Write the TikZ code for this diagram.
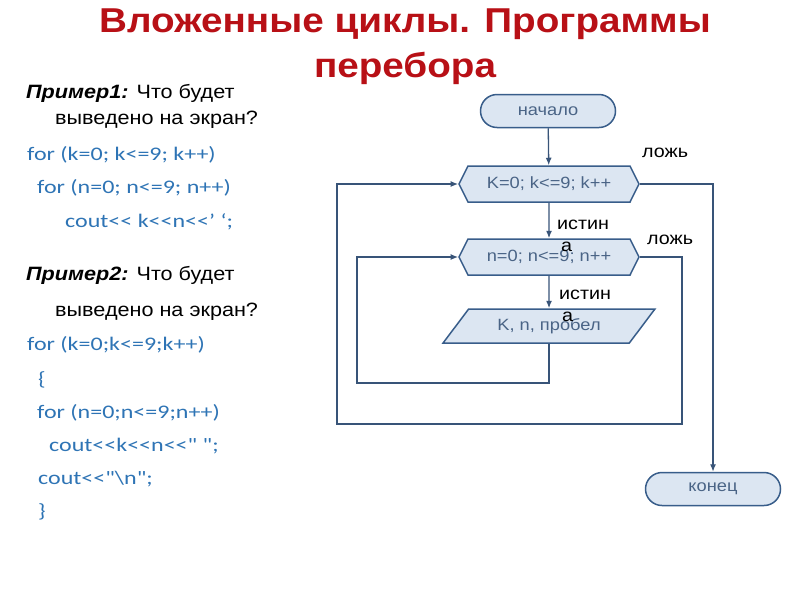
\documentclass[tikz,border=0pt]{standalone}
\usepackage{fontspec}
\setmainfont{Liberation Sans}[FakeStretch=1.12]
\newfontfamily\codefont{Carlito}[FakeStretch=1.25,Ligatures=TeXOff]
\usetikzlibrary{shapes.misc,shapes.symbols,shapes.geometric,arrows.meta}
\definecolor{titlered}{RGB}{184,16,22}
\definecolor{codeblue}{RGB}{46,116,181}
\definecolor{boxline}{RGB}{56,93,138}
\definecolor{boxfill}{RGB}{220,230,242}
\definecolor{boxtext}{RGB}{74,100,134}
\definecolor{connclr}{RGB}{56,84,120}
\tikzset{
  titletxt/.style={anchor=base, inner sep=0pt, text=titlered, font=\fontsize{34.5}{41}\selectfont\bfseries},
  bodytxt/.style={anchor=base west, inner sep=0pt, text=black, font=\fontsize{19.3}{23}\selectfont},
  codetxt/.style={anchor=base west, inner sep=0pt, text=codeblue, font=\codefont\fontsize{19.2}{22}\selectfont},
  lbl/.style={inner sep=0pt, text=black, font=\fontsize{17.6}{21}\selectfont},
  boxbase/.style={draw=boxline, fill=boxfill, line width=1.5pt, inner sep=0pt, text=boxtext, font=\fontsize{16.3}{19}\selectfont},
  terminal/.style={boxbase, rounded rectangle, minimum width=135pt, minimum height=33pt},
  loopbox/.style={boxbase, signal, signal to=west and east, signal pointer angle=127, minimum width=180pt, minimum height=36pt},
  iobox/.style={boxbase, trapezium, trapezium left angle=43, trapezium right angle=137, trapezium stretches=true, minimum width=212pt, minimum height=34pt},
  conn/.style={draw=connclr, line width=1.3pt},
  arr/.style={conn, -{Latex[length=7.5pt,width=6pt]}}
}
\begin{document}
\begin{tikzpicture}[x=1pt,y=-1pt]
\fill[white] (0,0) rectangle (800,600);
\useasboundingbox (0,0) rectangle (800,600);
% title
\node[titletxt] (title1) at (405,32) {Вложенные циклы. Программы};
\node[titletxt] (title2) at (405,77) {перебора};
% left text
\node[bodytxt] (p1) at (26,98) {\textbf{\textit{Пример1:}} Что будет};
\node[bodytxt] (p1b) at (55,124) {выведено на экран?};
\node[codetxt] (c1) at (27,160) {for (k=0; k<=9; k++)};
\node[codetxt] (c2) at (37,193) {for (n=0; n<=9; n++)};
\node[codetxt] (c3) at (65,227) {cout<< k<<n<<’ ‘;};
\node[bodytxt] (p2) at (26,280) {\textbf{\textit{Пример2:}} Что будет};
\node[bodytxt] (p2b) at (55,316) {выведено на экран?};
\node[codetxt] (c4) at (27,350) {for (k=0;k<=9;k++)};
\node[codetxt] (c5) at (38,385) {\{};
\node[codetxt] (c6) at (37,418) {for (n=0;n<=9;n++)};
\node[codetxt] (c7) at (49,451) {cout<<k<<n<<" ";};
\node[codetxt] (c8) at (38,484) {cout<<"\textbackslash n";};
\node[codetxt] (c9) at (38,517) {\}};
% flowchart
\node[terminal] (start) at (548,111) {начало};
\node[loopbox] (kloop) at (549,184) {K=0; k<=9; k++};
\node[loopbox] (nloop) at (549,257) {n=0; n<=9; n++};
\node[iobox] (out) at (549,326) {K, n, пробел};
\node[terminal] (finish) at (713,489) {конец};
\coordinate (innerl) at (357,383);
\coordinate (nright) at (682,424);
\coordinate (outerl) at (337,424);
\draw[arr] (start) -- (kloop);
\draw[arr] (kloop) -- (nloop);
\draw[arr] (nloop) -- (out);
\draw[arr] (out.south) -- (out.south |- innerl) -- (innerl) |- (nloop.west);
\draw[arr] (nloop.east) -| (nright) -- (outerl) |- (kloop.west);
\draw[arr] (kloop.east) -| (finish.north);
% labels
\node[lbl, anchor=base west] (f1) at (642,157) {ложь};
\node[lbl, anchor=base west] (f2) at (647,244) {ложь};
\node[lbl, anchor=base west] (t1a) at (557,229) {истин};
\node[lbl, anchor=base west] (t1b) at (561,251) {а};
\node[lbl, anchor=base west] (t2a) at (559,299) {истин};
\node[lbl, anchor=base west] (t2b) at (562,321) {а};
\end{tikzpicture}
\end{document}
